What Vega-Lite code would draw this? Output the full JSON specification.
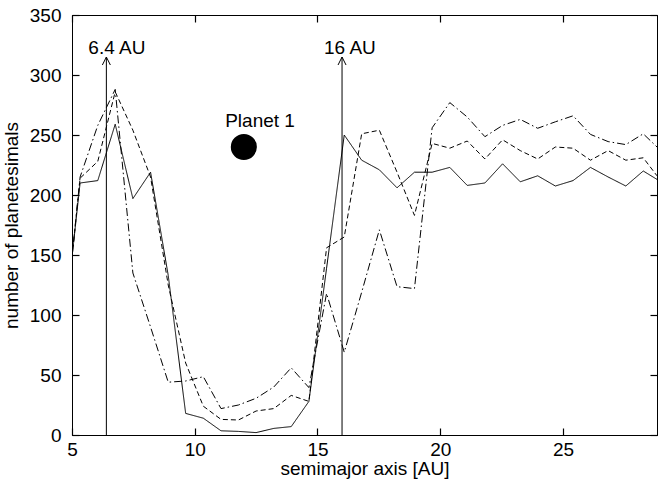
{
  "$schema": "https://vega.github.io/schema/vega-lite/v6.json",
  "width": 585,
  "height": 420,
  "autosize": "none",
  "padding": {"left": 72, "top": 15, "right": 3, "bottom": 46},
  "background": "white",
  "config": {
    "font": "Liberation Sans",
    "view": {"stroke": "black", "strokeWidth": 1},
    "axis": {"domainColor": "black", "tickColor": "black", "tickWidth": 1.2, "labelColor": "black", "titleColor": "black", "grid": false, "labelFont": "Liberation Sans", "titleFont": "Liberation Sans", "titleFontWeight": "normal", "labelFontSize": 19, "titleFontSize": 19}
  },
  "datasets": {
    "curves": [
      {"a": 5.00, "n": 148, "s": "A"}, {"a": 5.33, "n": 210, "s": "A"}, {"a": 6.05, "n": 212, "s": "A"}, {"a": 6.76, "n": 259, "s": "A"}, {"a": 7.48, "n": 197, "s": "A"}, {"a": 8.20, "n": 219, "s": "A"}, {"a": 8.92, "n": 133, "s": "A"}, {"a": 9.63, "n": 18, "s": "A"}, {"a": 10.35, "n": 14, "s": "A"}, {"a": 11.07, "n": 3.5, "s": "A"}, {"a": 11.78, "n": 3, "s": "A"}, {"a": 12.50, "n": 2, "s": "A"}, {"a": 13.22, "n": 5.5, "s": "A"}, {"a": 13.93, "n": 7, "s": "A"}, {"a": 14.65, "n": 28, "s": "A"}, {"a": 15.37, "n": 139, "s": "A"}, {"a": 16.09, "n": 250, "s": "A"}, {"a": 16.80, "n": 229, "s": "A"}, {"a": 17.52, "n": 221, "s": "A"}, {"a": 18.24, "n": 206, "s": "A"}, {"a": 18.95, "n": 219, "s": "A"}, {"a": 19.67, "n": 219, "s": "A"}, {"a": 20.39, "n": 223, "s": "A"}, {"a": 21.10, "n": 208, "s": "A"}, {"a": 21.82, "n": 210, "s": "A"}, {"a": 22.54, "n": 226, "s": "A"}, {"a": 23.26, "n": 211, "s": "A"}, {"a": 23.97, "n": 216, "s": "A"}, {"a": 24.69, "n": 207.5, "s": "A"}, {"a": 25.41, "n": 212, "s": "A"}, {"a": 26.12, "n": 223, "s": "A"}, {"a": 26.84, "n": 215, "s": "A"}, {"a": 27.56, "n": 207.5, "s": "A"}, {"a": 28.27, "n": 220, "s": "A"}, {"a": 28.83, "n": 213, "s": "A"},
      {"a": 5.00, "n": 148, "s": "B"}, {"a": 5.33, "n": 214, "s": "B"}, {"a": 6.05, "n": 228, "s": "B"}, {"a": 6.76, "n": 286, "s": "B"}, {"a": 7.48, "n": 254, "s": "B"}, {"a": 8.20, "n": 215, "s": "B"}, {"a": 8.92, "n": 125, "s": "B"}, {"a": 9.63, "n": 60, "s": "B"}, {"a": 10.35, "n": 24, "s": "B"}, {"a": 11.07, "n": 13, "s": "B"}, {"a": 11.78, "n": 12.5, "s": "B"}, {"a": 12.50, "n": 20, "s": "B"}, {"a": 13.22, "n": 22, "s": "B"}, {"a": 13.93, "n": 33, "s": "B"}, {"a": 14.65, "n": 28, "s": "B"}, {"a": 15.37, "n": 156, "s": "B"}, {"a": 16.09, "n": 165, "s": "B"}, {"a": 16.80, "n": 251, "s": "B"}, {"a": 17.52, "n": 254, "s": "B"}, {"a": 18.24, "n": 219, "s": "B"}, {"a": 18.95, "n": 183, "s": "B"}, {"a": 19.67, "n": 243, "s": "B"}, {"a": 20.39, "n": 239, "s": "B"}, {"a": 21.10, "n": 245, "s": "B"}, {"a": 21.82, "n": 230, "s": "B"}, {"a": 22.54, "n": 246, "s": "B"}, {"a": 23.26, "n": 237, "s": "B"}, {"a": 23.97, "n": 230, "s": "B"}, {"a": 24.69, "n": 240, "s": "B"}, {"a": 25.41, "n": 239, "s": "B"}, {"a": 26.12, "n": 229, "s": "B"}, {"a": 26.84, "n": 237, "s": "B"}, {"a": 27.56, "n": 229, "s": "B"}, {"a": 28.27, "n": 231, "s": "B"}, {"a": 28.83, "n": 216, "s": "B"},
      {"a": 5.00, "n": 148, "s": "C"}, {"a": 5.33, "n": 215, "s": "C"}, {"a": 6.05, "n": 258, "s": "C"}, {"a": 6.76, "n": 288, "s": "C"}, {"a": 7.48, "n": 135, "s": "C"}, {"a": 8.20, "n": 90, "s": "C"}, {"a": 8.92, "n": 44, "s": "C"}, {"a": 9.63, "n": 45, "s": "C"}, {"a": 10.35, "n": 48.6, "s": "C"}, {"a": 11.07, "n": 22, "s": "C"}, {"a": 11.78, "n": 25, "s": "C"}, {"a": 12.50, "n": 30.6, "s": "C"}, {"a": 13.22, "n": 40, "s": "C"}, {"a": 13.93, "n": 56, "s": "C"}, {"a": 14.65, "n": 39.5, "s": "C"}, {"a": 15.37, "n": 118, "s": "C"}, {"a": 16.09, "n": 69, "s": "C"}, {"a": 16.80, "n": 119, "s": "C"}, {"a": 17.52, "n": 171, "s": "C"}, {"a": 18.24, "n": 123.6, "s": "C"}, {"a": 18.95, "n": 122, "s": "C"}, {"a": 19.67, "n": 256, "s": "C"}, {"a": 20.39, "n": 277, "s": "C"}, {"a": 21.10, "n": 265, "s": "C"}, {"a": 21.82, "n": 248.6, "s": "C"}, {"a": 22.54, "n": 258, "s": "C"}, {"a": 23.26, "n": 263, "s": "C"}, {"a": 23.97, "n": 255.6, "s": "C"}, {"a": 24.69, "n": 261, "s": "C"}, {"a": 25.41, "n": 266, "s": "C"}, {"a": 26.12, "n": 250.5, "s": "C"}, {"a": 26.84, "n": 244.5, "s": "C"}, {"a": 27.56, "n": 242, "s": "C"}, {"a": 28.27, "n": 251, "s": "C"}, {"a": 28.83, "n": 240, "s": "C"}
    ],
    "arrows": [
      {"a": 6.4, "bottom": 0, "top": 315, "label": "6.4 AU", "ly": 322.5},
      {"a": 16, "bottom": 0, "top": 315, "label": "16 AU", "ly": 322.5}
    ],
    "planet": [
      {"a": 12.0, "n": 240, "label": "Planet 1", "la": 12.66, "ln": 261.5}
    ]
  },
  "layer": [
    {
      "data": {"name": "curves"},
      "mark": {"type": "line", "color": "black", "strokeWidth": 1, "clip": true},
      "encoding": {
        "x": {"field": "a", "type": "quantitative", "scale": {"domain": [5, 28.83], "nice": false, "zero": false},
              "axis": {"values": [5, 10, 15, 20, 25], "title": "semimajor axis [AU]", "tickSize": -7, "labelPadding": 12, "titlePadding": 0, "labelFlush": false}},
        "y": {"field": "n", "type": "quantitative", "scale": {"domain": [0, 350], "nice": false},
              "axis": {"values": [0, 50, 100, 150, 200, 250, 300, 350], "title": "number of planetesimals", "tickSize": -7, "labelPadding": 18, "titlePadding": 8, "labelFlush": false}},
        "strokeDash": {"field": "s", "type": "nominal", "scale": {"domain": ["A", "B", "C"], "range": [[1, 0], [5, 3], [8, 3, 1.5, 3]]}, "legend": null},
        "detail": {"field": "s"}
      }
    },
    {
      "data": {"name": "arrows"},
      "mark": {"type": "rule", "color": "black", "strokeWidth": 1},
      "encoding": {
        "x": {"field": "a", "type": "quantitative", "axis": null},
        "y": {"field": "bottom", "type": "quantitative", "axis": null},
        "y2": {"field": "top"}
      }
    },
    {
      "data": {"name": "arrows"},
      "mark": {"type": "point", "shape": "M-1,2L0,0L1,2", "size": 64, "filled": false, "stroke": "black", "strokeWidth": 1, "opacity": 1},
      "encoding": {
        "x": {"field": "a", "type": "quantitative", "axis": null},
        "y": {"field": "top", "type": "quantitative", "axis": null}
      }
    },
    {
      "data": {"name": "arrows"},
      "mark": {"type": "text", "align": "left", "baseline": "middle", "dx": -18, "fontSize": 19, "color": "black"},
      "encoding": {
        "x": {"field": "a", "type": "quantitative", "axis": null},
        "y": {"field": "ly", "type": "quantitative", "axis": null},
        "text": {"field": "label"}
      }
    },
    {
      "data": {"name": "planet"},
      "mark": {"type": "point", "shape": "circle", "filled": true, "color": "black", "size": 680, "opacity": 1},
      "encoding": {
        "x": {"field": "a", "type": "quantitative", "axis": null},
        "y": {"field": "n", "type": "quantitative", "axis": null}
      }
    },
    {
      "data": {"name": "planet"},
      "mark": {"type": "text", "align": "center", "baseline": "middle", "fontSize": 19, "color": "black"},
      "encoding": {
        "x": {"field": "la", "type": "quantitative", "axis": null},
        "y": {"field": "ln", "type": "quantitative", "axis": null},
        "text": {"field": "label"}
      }
    },
    {
      "data": {"name": "planet"},
      "mark": {"type": "point", "opacity": 0},
      "encoding": {
        "x": {"field": "a", "type": "quantitative", "axis": {"orient": "top", "values": [5, 10, 15, 20, 25], "labels": false, "title": null, "tickSize": -7, "domain": true}},
        "y": {"field": "n", "type": "quantitative", "axis": {"orient": "right", "values": [0, 50, 100, 150, 200, 250, 300, 350], "labels": false, "title": null, "tickSize": -7, "domain": true}}
      }
    }
  ],
  "resolve": {"axis": {"x": "independent", "y": "independent"}}
}
